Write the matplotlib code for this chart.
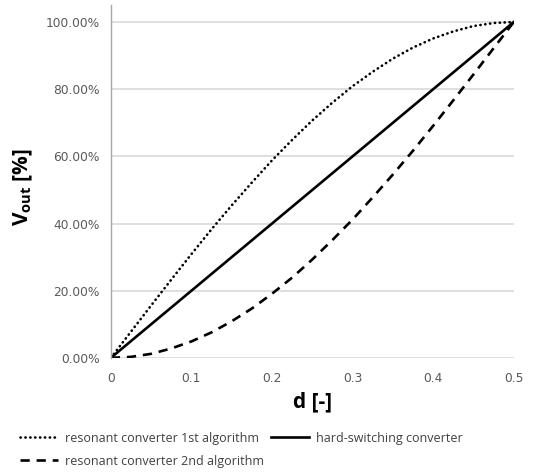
import matplotlib
matplotlib.use("Agg")
import matplotlib.pyplot as plt
from matplotlib.ticker import FuncFormatter

# ---- Data ----
d = [0.0, 0.025, 0.05, 0.075, 0.1, 0.125, 0.15, 0.175, 0.2, 0.225, 0.25,
     0.275, 0.3, 0.325, 0.35, 0.375, 0.4, 0.425, 0.45, 0.475, 0.5]
res_1st = [0.0, 7.8, 15.6, 23.3, 30.9, 38.3, 45.4, 52.2, 58.8, 64.9, 70.7,
           76.0, 80.9, 85.2, 89.1, 92.4, 95.1, 97.2, 98.8, 99.7, 100.0]
res_2nd = [0.0, 0.3, 1.2, 2.8, 4.9, 7.6, 10.9, 14.7, 19.1, 23.9, 29.3,
           35.1, 41.2, 47.8, 54.6, 61.7, 69.1, 76.7, 84.4, 92.2, 100.0]
d_hard = [0.0, 0.1, 0.2, 0.3, 0.4, 0.5]
hard = [0.0, 20.0, 40.0, 60.0, 80.0, 100.0]

x_ticks = [0, 0.1, 0.2, 0.3, 0.4, 0.5]
y_ticks = [0, 20, 40, 60, 80, 100]

plt.rcParams['mathtext.fontset'] = 'custom'
plt.rcParams['mathtext.bf'] = 'Open Sans:bold'
plt.rcParams['mathtext.rm'] = 'Open Sans'

fig = plt.figure(figsize=(5.46, 4.74), dpi=100)
ax = fig.add_axes([0.203, 0.245, 0.738, 0.744])

lw = 1.9
l1, = ax.plot(d, res_1st, color="black", linewidth=lw, linestyle=(0, (0.1, 1.75)),
              dash_capstyle="round", label="resonant converter 1st algorithm")
l2, = ax.plot(d, res_2nd, color="black", linewidth=lw, linestyle=(0, (3.5, 2.6)),
              label="resonant converter 2nd algorithm")
l3, = ax.plot(d_hard, hard, color="black", linewidth=lw,
              label="hard-switching converter")

ax.set_xlim(0, 0.5)
ax.set_ylim(0, 105)
ax.set_xticks(x_ticks)
ax.set_xticklabels(["0", "0.1", "0.2", "0.3", "0.4", "0.5"])
ax.set_yticks(y_ticks)
ax.yaxis.set_major_formatter(FuncFormatter(lambda v, p: f"{v:.2f}%"))
ax.tick_params(length=0, labelsize=8.8, labelcolor="#595959", pad=8)
ax.tick_params(axis="x", pad=10)
ax.grid(axis="y", color="#d9d9d9", linewidth=1.2)
ax.set_axisbelow(True)
for s in ["top", "right", "bottom"]:
    ax.spines[s].set_visible(False)
ax.spines["left"].set_color("#a6a6a6")
ax.spines["left"].set_linewidth(1)

fig.text(0.573, 0.152, "d [-]", ha="center", va="center",
         fontsize=15, fontweight="bold", family="Open Sans")
ax.set_ylabel(r"$\mathbf{V_{out}}$ [%]", fontsize=15, fontweight="bold",
              family="Open Sans")
ax.yaxis.set_label_coords(-0.189, 0.484)

fig.legend(handles=[l1, l2, l3], loc="upper left", bbox_to_anchor=(0.027, 0.1),
           ncol=2, frameon=False, handlelength=3.1, handletextpad=0.55,
           columnspacing=0.5, labelspacing=0.8, borderaxespad=0,
           prop={"family": "Open Sans", "size": 9.0}, labelcolor="#404040")

fig.savefig("out.png", dpi=100)
